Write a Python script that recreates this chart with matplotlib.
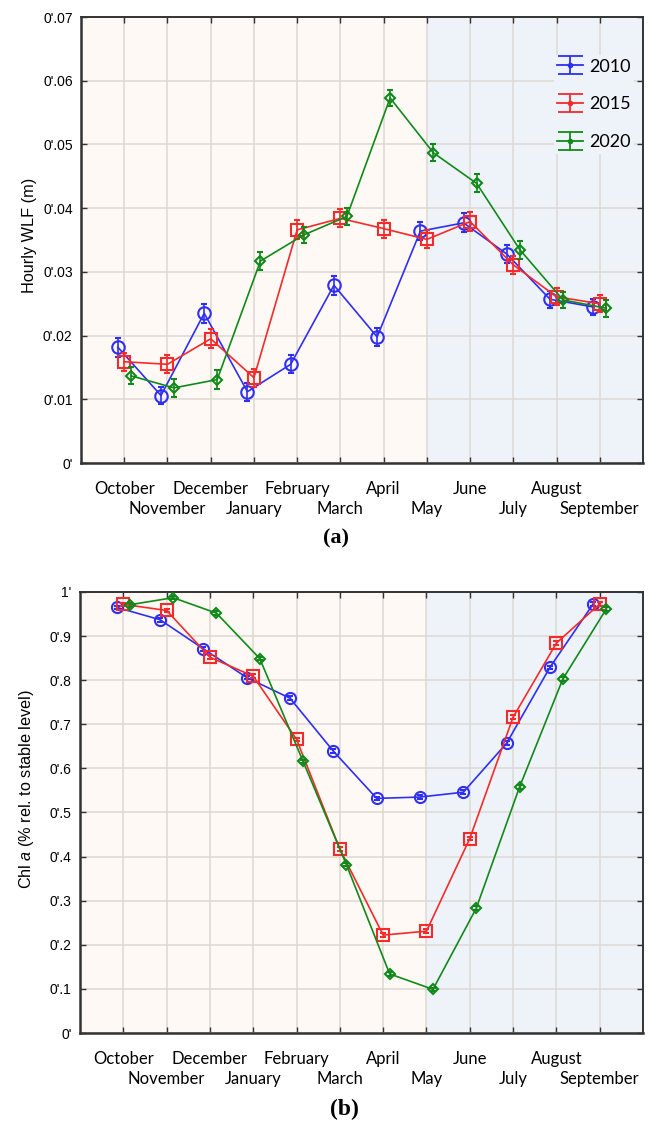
import numpy as np
import matplotlib
matplotlib.use("Agg")
import matplotlib.pyplot as plt

months = ["October", "November", "December", "January", "February", "March",
          "April", "May", "June", "July", "August", "September"]
years = ["2010", "2015", "2020"]

# hourly water level fluctuation (m)
wlf_2010 = [0.0182, 0.0106, 0.0235, 0.0112, 0.0155, 0.0279, 0.0198, 0.0364, 0.0377, 0.0328, 0.0257, 0.0245]
wlf_2015 = [0.0159, 0.0155, 0.0195, 0.0134, 0.0366, 0.0384, 0.0368, 0.0351, 0.0379, 0.0311, 0.0261, 0.0250]
wlf_2020 = [0.0137, 0.0118, 0.0131, 0.0317, 0.0358, 0.0387, 0.0573, 0.0487, 0.0439, 0.0335, 0.0256, 0.0243]
wlf_err_2010 = [0.0015, 0.0014, 0.0015, 0.0014, 0.0014, 0.0015, 0.0014, 0.0014, 0.0015, 0.0014, 0.0013, 0.0013]
wlf_err_2015 = [0.0014, 0.0014, 0.0015, 0.0014, 0.0015, 0.0014, 0.0014, 0.0014, 0.0015, 0.0014, 0.0013, 0.0013]
wlf_err_2020 = [0.0013, 0.0014, 0.0015, 0.0014, 0.0013, 0.0014, 0.0013, 0.0013, 0.0014, 0.0014, 0.0013, 0.0013]

# chl a relative to stable level
chl_2010 = [0.965, 0.937, 0.871, 0.806, 0.759, 0.639, 0.532, 0.535, 0.546, 0.657, 0.829, 0.973]
chl_2015 = [0.972, 0.958, 0.852, 0.809, 0.666, 0.417, 0.222, 0.231, 0.441, 0.716, 0.884, 0.973]
chl_2020 = [0.971, 0.987, 0.952, 0.849, 0.616, 0.382, 0.134, 0.099, 0.283, 0.558, 0.803, 0.961]
chl_err = [0.004, 0.004, 0.004, 0.004, 0.004, 0.004, 0.004, 0.004, 0.004, 0.004, 0.004, 0.004]

wlf_ticks = [0, 0.01, 0.02, 0.03, 0.04, 0.05, 0.06, 0.07]
wlf_tick_labels = ["0'", "0'.01", "0'.02", "0'.03", "0'.04", "0'.05", "0'.06", "0'.07"]
chl_ticks = [0, 0.1, 0.2, 0.3, 0.4, 0.5, 0.6, 0.7, 0.8, 0.9, 1.0]
chl_tick_labels = ["0'", "0'.1", "0'.2", "0'.3", "0'.4", "0'.5", "0'.6", "0'.7", "0'.8", "0'.9", "1'"]

colors = ["#2E2EF5", "#F52A2A", "#11891A"]
markers = ["o", "s", "D"]
offsets = [-0.15, 0.0, 0.15]

plt.rcParams["mathtext.fontset"] = "custom"
plt.rcParams["mathtext.it"] = "Liberation Sans:italic"
plt.rcParams["mathtext.rm"] = "Liberation Sans"

fig = plt.figure(figsize=(6.57, 11.22), dpi=100)
ax1 = fig.add_axes([0.1233, 0.5873, 0.8554, 0.3975])
ax2 = fig.add_axes([0.1218, 0.0793, 0.8569, 0.3931])

x = np.arange(1, 13)


def style_axes(ax, yticks, ylabels, ylim):
    ax.axvspan(0, 8, color="#FEF9F4", zorder=0, lw=0)
    ax.axvspan(8, 13, color="#EEF3FA", zorder=0, lw=0)
    ax.set_xlim(0, 13)
    ax.set_ylim(*ylim)
    # months alternate between two label rows
    ax.set_xticks(x[0::2], months[0::2], fontsize=12, family="Lato")
    ax.set_xticks(x[1::2], months[1::2], minor=True, fontsize=12, family="Lato")
    ax.set_yticks(yticks, ylabels, fontsize=10, family="Liberation Sans")
    ax.set_axisbelow(True)
    ax.grid(True, which="both", color="#DDD9D2", lw=1.1)
    ax.tick_params(which="both", direction="in", top=True, right=True, length=4, width=1,
                   color="#333333")
    ax.tick_params(axis="x", which="major", pad=13)
    ax.tick_params(axis="x", which="minor", pad=27.5)
    ax.tick_params(axis="y", pad=6)
    for s in ax.spines.values():
        s.set_color("#333333")
        s.set_linewidth(1.4)
    ax.spines["left"].set_linewidth(1.8)
    ax.spines["bottom"].set_linewidth(1.8)


# (a) hourly WLF
wlf = [wlf_2010, wlf_2015, wlf_2020]
wlf_err = [wlf_err_2010, wlf_err_2015, wlf_err_2020]
msize = [9, 9, 5.5]
for k in range(3):
    ax1.errorbar(x + offsets[k], wlf[k], yerr=wlf_err[k], color=colors[k], marker=markers[k],
                 ms=msize[k], mfc="none", mew=1.5, lw=1.2, capsize=2.5, capthick=1.2,
                 elinewidth=1.2, zorder=3 + k)
style_axes(ax1, wlf_ticks, wlf_tick_labels, (0, 0.07))
ax1.set_ylabel("Hourly WLF (m)", fontsize=11.7, family="Liberation Sans")
ax1.yaxis.set_label_coords(-0.078, 0.51)

# legend proxies (not drawn: NaN data)
handles = []
for k in range(3):
    h = ax1.errorbar([np.nan], [np.nan], yerr=[np.nan], color=colors[k], marker=".", ms=6,
                     lw=1.3, capsize=9, capthick=1.3, elinewidth=1.3, label=years[k])
    handles.append(h)
leg = ax1.legend(handles=handles, loc="upper right", bbox_to_anchor=(1.0, 0.935),
                 frameon=True, facecolor="#EEF3FA", edgecolor="none", framealpha=1,
                 prop={"family": "Lato", "size": 13}, labelspacing=1.2,
                 handlelength=1.45, handletextpad=0.3, borderpad=0.2)

# (b) chl a
chl = [chl_2010, chl_2015, chl_2020]
msize2 = [8, 8, 5]
for k in range(3):
    ax2.errorbar(x + offsets[k], chl[k], yerr=chl_err, color=colors[k], marker=markers[k],
                 ms=msize2[k], mfc="none", mew=1.5, lw=1.2, capsize=2, capthick=1,
                 elinewidth=1, zorder=3 + k)
style_axes(ax2, chl_ticks, chl_tick_labels, (0, 1.0))
ax2.set_ylabel("Chl $\\it{a}$ (% rel. to stable level)", fontsize=11.7, family="Liberation Sans")
ax2.yaxis.set_label_coords(-0.078, 0.553)

fig.text(0.511, 0.5205, "(a)", ha="center", va="center", fontsize=16,
         fontweight="bold", family="Liberation Serif")
fig.text(0.525, 0.011, "(b)", ha="center", va="center", fontsize=17,
         fontweight="bold", family="Liberation Serif")

fig.savefig("out.png", dpi=100)
